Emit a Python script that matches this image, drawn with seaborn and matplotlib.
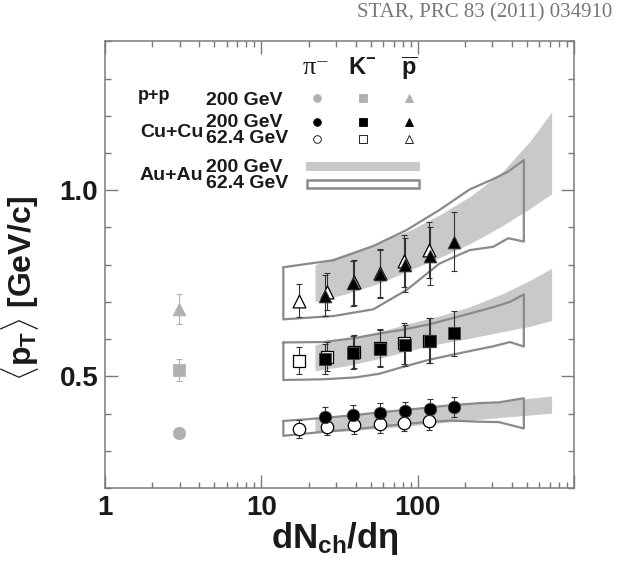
import matplotlib
matplotlib.use("Agg")
import numpy as np
import seaborn as sns
from matplotlib import pyplot as plt
from matplotlib.ticker import FixedLocator, LogLocator, NullFormatter

# ---- p+p 200 GeV
PP_DNDETA = [2.98]
PP_PI, PP_PI_ERR = [0.349], [0.008]
PP_K, PP_K_ERR = [0.517], [0.030]
PP_PBAR, PP_PBAR_ERR = [0.680], [0.040]

# ---- Cu+Cu 200 GeV
CU200_DNDETA = [25.5, 38.8, 57.0, 83.0, 119.0, 170.0]
CU200_PI = [0.392, 0.397, 0.402, 0.406, 0.412, 0.418]
CU200_PI_ERR = [0.026, 0.026, 0.026, 0.026, 0.026, 0.026]
CU200_K = [0.547, 0.563, 0.574, 0.583, 0.596, 0.615]
CU200_K_ERR = [0.040, 0.044, 0.050, 0.055, 0.060, 0.060]
CU200_PBAR = [0.717, 0.750, 0.775, 0.799, 0.823, 0.862]
CU200_PBAR_ERR = [0.054, 0.060, 0.064, 0.072, 0.077, 0.080]

# ---- Cu+Cu 62.4 GeV
CU62_DNDETA = [17.4, 26.3, 38.9, 57.1, 81.3, 118.3]
CU62_PI = [0.359, 0.365, 0.368, 0.372, 0.375, 0.379]
CU62_PI_ERR = [0.024, 0.023, 0.023, 0.023, 0.023, 0.023]
CU62_K = [0.542, 0.553, 0.566, 0.577, 0.589, 0.596]
CU62_K_ERR = [0.036, 0.040, 0.045, 0.050, 0.055, 0.060]
CU62_PBAR = [0.703, 0.727, 0.752, 0.778, 0.810, 0.839]
CU62_PBAR_ERR = [0.045, 0.050, 0.060, 0.065, 0.070, 0.075]

# ---- Au+Au 200 GeV bands (filled)
AU200_X = [22, 35, 57, 90, 140, 220, 350, 520, 720]
PI_AU200_HI = [0.390, 0.396, 0.403, 0.411, 0.419, 0.427, 0.434, 0.441, 0.447]
PI_AU200_LO = [0.348, 0.353, 0.360, 0.367, 0.375, 0.383, 0.390, 0.396, 0.401]
K_AU200_HI = [0.585, 0.600, 0.620, 0.643, 0.663, 0.688, 0.722, 0.757, 0.790]
K_AU200_LO = [0.515, 0.528, 0.548, 0.570, 0.588, 0.603, 0.620, 0.634, 0.650]
P_AU200_HI = [0.800, 0.830, 0.860, 0.893, 0.935, 0.985, 1.050, 1.130, 1.210]
P_AU200_LO = [0.700, 0.722, 0.750, 0.786, 0.820, 0.858, 0.905, 0.950, 0.990]

# ---- Au+Au 62.4 GeV bands (open)
PI_AU62_X = [13.8, 25, 40, 60, 100, 160, 250, 330, 478]
PI_AU62_HI = [0.380, 0.388, 0.396, 0.404, 0.413, 0.422, 0.428, 0.430, 0.441]
PI_AU62_LO = [0.340, 0.351, 0.358, 0.366, 0.375, 0.381, 0.378, 0.377, 0.360]
K_AU62_X = [13.8, 25, 40, 57, 80, 120, 200, 300, 390, 478]
K_AU62_HI = [0.591, 0.592, 0.603, 0.615, 0.625, 0.640, 0.665, 0.685, 0.700, 0.720]
K_AU62_LO = [0.490, 0.492, 0.497, 0.507, 0.525, 0.545, 0.565, 0.580, 0.592, 0.580]
P_AU62_X = [13.8, 29, 52, 85, 138, 215, 305, 380, 478]
P_AU62_HI = [0.793, 0.812, 0.850, 0.893, 0.947, 1.002, 1.030, 1.050, 1.081]
P_AU62_LO = [0.653, 0.662, 0.680, 0.732, 0.803, 0.839, 0.848, 0.871, 0.862]

BAND_GRAY = "#c9c9c9"
BOX_GRAY = "#8a8a8a"
PP_GRAY = "#b0b0b0"
FRAME = "#7a7a7a"
INK = "#1a1a1a"


def ax_frac(px, py):
    # pixel position in the figure -> axes fraction
    return (px - 105.3) / 468.7, (488.0 - py) / 446.7


def main():
    sns.set_style("ticks")
    plt.rcParams["font.family"] = ["Liberation Sans", "DejaVu Sans"]
    plt.rcParams["mathtext.fontset"] = "custom"
    plt.rcParams["mathtext.rm"] = "Liberation Sans:bold"
    plt.rcParams["mathtext.bf"] = "Liberation Sans:bold"
    plt.rcParams["mathtext.it"] = "Liberation Sans:bold"

    fig = plt.figure(figsize=(6.23, 5.64), dpi=100)
    ax = fig.add_axes([0.169, 0.1348, 0.7522, 0.7920])

    # Au+Au bands
    for hi, lo in [(PI_AU200_HI, PI_AU200_LO), (K_AU200_HI, K_AU200_LO),
                   (P_AU200_HI, P_AU200_LO)]:
        ax.fill_between(AU200_X, lo, hi, color=BAND_GRAY, lw=0, zorder=1)

    for xs, hi, lo in [(PI_AU62_X, PI_AU62_HI, PI_AU62_LO),
                       (K_AU62_X, K_AU62_HI, K_AU62_LO),
                       (P_AU62_X, P_AU62_HI, P_AU62_LO)]:
        px = list(xs) + list(xs)[::-1] + [xs[0]]
        py = list(hi) + list(lo)[::-1] + [hi[0]]
        sns.lineplot(x=px, y=py, sort=False, estimator=None, color=BOX_GRAY,
                     lw=1.6, ax=ax, zorder=2)

    # error bars
    err_kw = dict(fmt="none", elinewidth=0.8, capsize=2.5, capthick=0.8)
    for x, ys, es in [(CU62_DNDETA, CU62_PI, CU62_PI_ERR),
                      (CU62_DNDETA, CU62_K, CU62_K_ERR),
                      (CU62_DNDETA, CU62_PBAR, CU62_PBAR_ERR),
                      (CU200_DNDETA, CU200_PI, CU200_PI_ERR),
                      (CU200_DNDETA, CU200_K, CU200_K_ERR),
                      (CU200_DNDETA, CU200_PBAR, CU200_PBAR_ERR)]:
        ax.errorbar(x, ys, yerr=es, ecolor="#333333", zorder=3, **err_kw)
    for ys, es in [(PP_PI, PP_PI_ERR), (PP_K, PP_K_ERR), (PP_PBAR, PP_PBAR_ERR)]:
        ax.errorbar(PP_DNDETA, ys, yerr=es, ecolor=PP_GRAY, zorder=3, **err_kw)

    # markers
    marks = [("o", 80), ("s", 75), ("^", 85)]
    for (m, s), ys in zip(marks, [CU62_PI, CU62_K, CU62_PBAR]):
        sns.scatterplot(x=CU62_DNDETA, y=ys, marker=m, s=s, color="white",
                        edgecolor="black", linewidth=0.9, ax=ax, zorder=4)
    for (m, s), ys in zip(marks, [CU200_PI, CU200_K, CU200_PBAR]):
        sns.scatterplot(x=CU200_DNDETA, y=ys, marker=m, s=s, color="black",
                        edgecolor="#444444", linewidth=0.6, ax=ax, zorder=5)
    for (m, s), ys in zip(marks, [PP_PI, PP_K, PP_PBAR]):
        sns.scatterplot(x=PP_DNDETA, y=ys, marker=m, s=s, color=PP_GRAY,
                        edgecolor=PP_GRAY, linewidth=0.5, ax=ax, zorder=5)

    # axes
    ax.set_xscale("log")
    ax.set_xlim(1, 1000)
    ax.set_ylim(0.2, 1.4)
    ax.xaxis.set_major_locator(FixedLocator([1, 10, 100, 1000]))
    ax.set_xticklabels(["1", "10", "100", ""])
    ax.xaxis.set_minor_locator(LogLocator(base=10, subs=np.arange(2, 10)))
    ax.xaxis.set_minor_formatter(NullFormatter())
    ax.yaxis.set_major_locator(FixedLocator([0.5, 1.0]))
    ax.set_yticklabels(["0.5", "1.0"])
    ax.yaxis.set_minor_locator(FixedLocator(np.round(np.arange(0.2, 1.41, 0.1), 2)))
    ax.tick_params(which="both", direction="in", top=True, right=True,
                   color=FRAME, width=1.0)
    ax.tick_params(which="major", length=9.5, labelsize=20, pad=5)
    ax.tick_params(which="minor", length=4)
    for lab in ax.get_xticklabels() + ax.get_yticklabels():
        lab.set_fontweight("bold")
        lab.set_color(INK)
    for sp in ax.spines.values():
        sp.set_color(FRAME)
        sp.set_linewidth(1.1)

    ax.set_xlabel(r"dN$_{\mathrm{ch}}$/d$\eta$", fontsize=25, fontweight="bold",
                  color=INK)
    ax.xaxis.set_label_coords(0.49, -0.071)
    ax.set_ylabel(r"$\langle$p$_{\mathrm{T}}\rangle$ [GeV/c]", fontsize=23,
                  fontweight="bold", color=INK)
    ax.yaxis.set_label_coords(-0.137, 0.448)

    # legend block drawn by hand
    tkw = dict(transform=ax.transAxes, color=INK)
    hx = [316.7, 362.7, 409.3]
    fx, fy = ax_frac(hx[0], 68)
    ax.text(fx, fy, "\u03c0\u207b", ha="center", va="center", fontsize=19,
            family=["Liberation Serif", "DejaVu Serif"], **tkw)
    for px, lab in zip(hx[1:], [r"$\mathbf{K}^{-}$", r"$\overline{\mathbf{p}}$"]):
        fx, fy = ax_frac(px, 68)
        ax.text(fx, fy, lab, ha="center", va="center", fontsize=17,
                fontweight="bold", **tkw)

    fx, fy = ax_frac(138, 96)
    ax.text(fx, fy, "p+p", ha="left", va="center", fontsize=13,
            fontweight="bold", **tkw)
    fx, fy = ax_frac(140, 133)
    ax.text(fx, fy, "Cu+Cu", ha="left", va="center", fontsize=14,
            fontweight="bold", **tkw)
    fx, fy = ax_frac(140, 176)
    ax.text(fx, fy, "Au+Au", ha="left", va="center", fontsize=14,
            fontweight="bold", **tkw)
    for py, lab in [(101, "200 GeV"), (123, "200 GeV"), (139, "62.4 GeV"),
                    (168, "200 GeV"), (184, "62.4 GeV")]:
        fx, fy = ax_frac(206, py)
        ax.text(fx, fy, lab, ha="left", va="center", fontsize=14,
                fontweight="bold", **tkw)

    legend_rows = [(98.5, PP_GRAY, PP_GRAY), (121.7, "black", "black"),
                   (139, "white", "black")]
    for py, fc, ec in legend_rows:
        for px, m in zip(hx, ["o", "s", "^"]):
            fx, fy = ax_frac(px, py)
            ax.plot(fx, fy, marker=m, ms=5.5, mfc=fc, mec=ec, mew=0.6,
                    transform=ax.transAxes, ls="none", zorder=6)

    x0, y0 = ax_frac(306, 170.7)
    x1, y1 = ax_frac(420, 161.7)
    ax.add_patch(plt.Rectangle((x0, y0), x1 - x0, y1 - y0, transform=ax.transAxes,
                               facecolor=BAND_GRAY, edgecolor="none", zorder=6))
    x0, y0 = ax_frac(307, 188)
    x1, y1 = ax_frac(419, 180)
    ax.add_patch(plt.Rectangle((x0, y0), x1 - x0, y1 - y0, transform=ax.transAxes,
                               facecolor="white", edgecolor=BOX_GRAY, lw=1.8,
                               zorder=6))

    fig.text(0.983, 0.977, "STAR, PRC 83 (2011) 034910", ha="right", va="center",
             fontsize=15, color="#777777", family="Liberation Serif")

    fig.savefig("out.png", dpi=100)


if __name__ == "__main__":
    main()
